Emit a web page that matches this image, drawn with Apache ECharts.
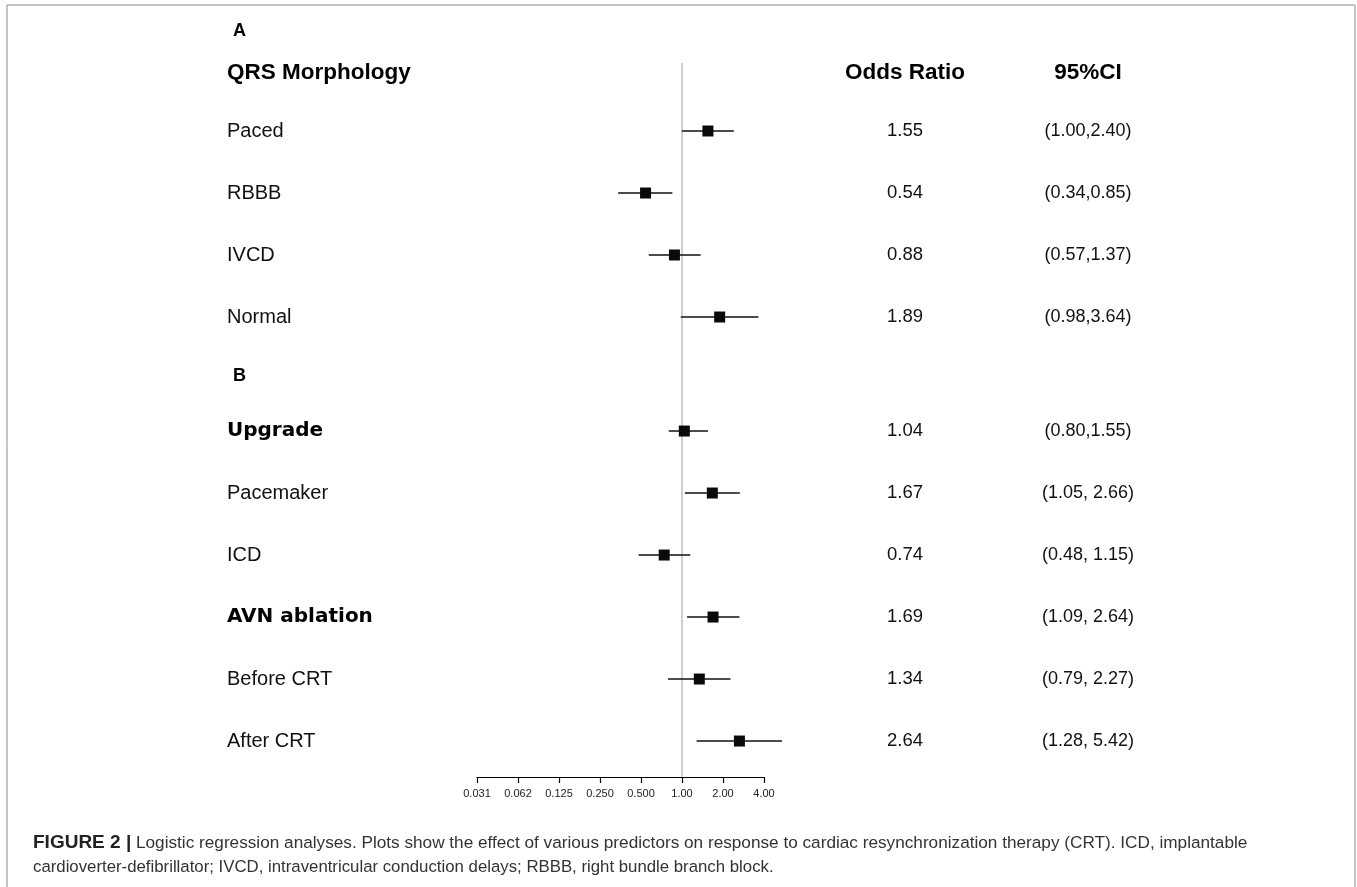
<!DOCTYPE html>
<html>
<head>
<meta charset="utf-8">
<title>Logistic regression forest plot</title>
<script src="https://cdn.jsdelivr.net/npm/echarts@6/dist/echarts.min.js"></script>
<style>
  html, body { margin: 0; padding: 0; background: #fff; }
  #chart { width: 1357px; height: 887px; }
</style>
</head>
<body>
<div id="chart"></div>
<script>
// ---- data ----
const panelLetters = ['A', 'B'];
const columnHeaders = ['QRS Morphology', 'Odds Ratio', '95%CI'];

const groupALabels = ['Paced', 'RBBB', 'IVCD', 'Normal'];
const groupAOR = [1.55, 0.54, 0.88, 1.89];
const groupALow = [1.00, 0.34, 0.57, 0.98];
const groupAHigh = [2.40, 0.85, 1.37, 3.64];
const groupACiSep = [',', ',', ',', ','];

const groupBLabels = ['Upgrade', 'Pacemaker', 'ICD', 'AVN ablation', 'Before CRT', 'After CRT'];
const groupBOR = [1.04, 1.67, 0.74, 1.69, 1.34, 2.64];
const groupBLow = [0.80, 1.05, 0.48, 1.09, 0.79, 1.28];
const groupBHigh = [1.55, 2.66, 1.15, 2.64, 2.27, 5.42];
const groupBCiSep = [',', ', ', ', ', ', ', ', ', ', '];

const tickLabels = ['0.031', '0.062', '0.125', '0.250', '0.500', '1.00', '2.00', '4.00'];

const captionBold = 'FIGURE 2 |';
const captionLine1 = ' Logistic regression analyses. Plots show the effect of various predictors on response to cardiac resynchronization therapy (CRT). ICD, implantable';
const captionLine2 = 'cardioverter-defibrillator; IVCD, intraventricular conduction delays; RBBB, right bundle branch block.';

// ---- layout (row units, one unit = one table row) ----
const ROW = {
  letterA: 0.387,
  header: 1.065,
  groupAStart: 2,
  letterB: 5.952,
  groupBStart: 6.839,
  refTop: 0.903,
  max: 12.419
};
const subheadRows = new Set(['Upgrade', 'AVN ablation']);
const COL_LABEL = 227, COL_OR = 905, COL_CI = 1088;
const FONT = '"Liberation Sans", Arial, Helvetica, sans-serif';
const HEAVY_FONT = '"DejaVu Sans", "Liberation Sans", sans-serif';

function buildRows(labels, or, lo, hi, sep, start) {
  return labels.map((name, i) => ({
    value: [or[i], start + i, lo[i], hi[i]],
    name: name,
    ciText: '(' + lo[i].toFixed(2) + sep[i] + hi[i].toFixed(2) + ')'
  }));
}
const rows = buildRows(groupALabels, groupAOR, groupALow, groupAHigh, groupACiSep, ROW.groupAStart)
  .concat(buildRows(groupBLabels, groupBOR, groupBLow, groupBHigh, groupBCiSep, ROW.groupBStart));

const headings = [
  { value: [1, ROW.letterA], text: panelLetters[0], kind: 'letter' },
  { value: [1, ROW.header], text: columnHeaders[0], kind: 'header', x: COL_LABEL, align: 'left' },
  { value: [1, ROW.header], text: columnHeaders[1], kind: 'header', x: COL_OR, align: 'center' },
  { value: [1, ROW.header], text: columnHeaders[2], kind: 'header', x: COL_CI, align: 'center' },
  { value: [1, ROW.letterB], text: panelLetters[1], kind: 'letter' }
];

const chart = echarts.init(document.getElementById('chart'), null, { renderer: 'canvas' });

chart.setOption({
  animation: false,
  backgroundColor: '#ffffff',
  grid: { left: 477, right: 593, top: 7, bottom: 110, containLabel: false },
  xAxis: {
    type: 'log',
    logBase: 2,
    min: 1 / 32,
    max: 4,
    splitNumber: 7,
    position: 'bottom',
    axisLine: { show: true, onZero: false, lineStyle: { color: '#000', width: 1.2 } },
    axisTick: { show: true, inside: false, length: 6, lineStyle: { color: '#000', width: 1.2 } },
    axisLabel: {
      margin: 11,
      fontSize: 11,
      fontFamily: FONT,
      color: '#222',
      formatter: function (v) {
        const k = Math.round(Math.log2(v)) + 5;
        return tickLabels[k] !== undefined ? tickLabels[k] : '';
      }
    },
    splitLine: { show: false }
  },
  yAxis: {
    type: 'value',
    inverse: true,
    min: 0,
    max: ROW.max,
    show: false
  },
  graphic: [
    {
      type: 'rect',
      shape: { x: 7, y: 5, width: 1348, height: 900 },
      style: { fill: 'none', stroke: '#8a8a8a', lineWidth: 1 },
      silent: true
    },
    {
      type: 'text',
      x: 33,
      y: 843,
      style: {
        text: '{b|' + captionBold + '}{r|' + captionLine1 + '}',
        verticalAlign: 'middle',
        rich: {
          b: { fontFamily: FONT, fontSize: 19, fontWeight: 'bold', fill: '#222' },
          r: { fontFamily: FONT, fontSize: 17.2, fill: '#333' }
        }
      }
    },
    {
      type: 'text',
      x: 33,
      y: 867,
      style: { text: captionLine2, fontFamily: FONT, fontSize: 16.8, fill: '#333', verticalAlign: 'middle' }
    }
  ],
  series: [
    {
      // reference line at odds ratio = 1
      type: 'line',
      name: 'reference',
      silent: true,
      z: 1,
      symbol: 'none',
      lineStyle: { color: '#cfcfcf', width: 2 },
      data: [[1, ROW.refTop], [1, ROW.max]]
    },
    {
      type: 'custom',
      name: 'headings',
      clip: false,
      silent: true,
      z: 3,
      data: headings,
      encode: { x: 0, y: 1 },
      renderItem: function (params, api) {
        const h = headings[params.dataIndex];
        const y = api.coord([1, api.value(1)])[1];
        if (h.kind === 'letter') {
          return {
            type: 'text',
            x: 233, y: y,
            style: { text: h.text, fontFamily: FONT, fontSize: 18, fontWeight: 'bold', fill: '#000', align: 'left', verticalAlign: 'middle' }
          };
        }
        return {
          type: 'text',
          x: h.x, y: y,
          style: { text: h.text, fontFamily: FONT, fontSize: 22.5, fontWeight: 'bold', fill: '#000', align: h.align, verticalAlign: 'middle' }
        };
      }
    },
    {
      type: 'custom',
      name: 'odds ratios',
      clip: false,
      silent: true,
      z: 3,
      data: rows,
      encode: { x: 0, y: 1 },
      renderItem: function (params, api) {
        const r = rows[params.dataIndex];
        const yv = api.value(1);
        const pOr = api.coord([api.value(0), yv]);
        const pLo = api.coord([api.value(2), yv]);
        const pHi = api.coord([api.value(3), yv]);
        const size = 11;
        const heavy = subheadRows.has(r.name);
        return {
          type: 'group',
          children: [
            {
              type: 'line',
              shape: { x1: pLo[0], y1: pOr[1], x2: pHi[0], y2: pOr[1] },
              style: { stroke: '#111', lineWidth: 1.5 }
            },
            {
              type: 'rect',
              shape: { x: pOr[0] - size / 2, y: pOr[1] - size / 2, width: size, height: size },
              style: { fill: '#0a0a0a' }
            },
            {
              type: 'text',
              x: COL_LABEL, y: pOr[1],
              style: heavy
                ? { text: r.name, fontFamily: HEAVY_FONT, fontSize: 20, fontWeight: 900, fill: '#000', align: 'left', verticalAlign: 'middle' }
                : { text: r.name, fontFamily: FONT, fontSize: 20, fill: '#111', align: 'left', verticalAlign: 'middle' }
            },
            {
              type: 'text',
              x: COL_OR, y: pOr[1],
              style: { text: api.value(0).toFixed(2), fontFamily: FONT, fontSize: 18.5, fill: '#111', align: 'center', verticalAlign: 'middle' }
            },
            {
              type: 'text',
              x: COL_CI, y: pOr[1],
              style: { text: r.ciText, fontFamily: FONT, fontSize: 18, fill: '#111', align: 'center', verticalAlign: 'middle' }
            }
          ]
        };
      }
    }
  ]
});
</script>
</body>
</html>
